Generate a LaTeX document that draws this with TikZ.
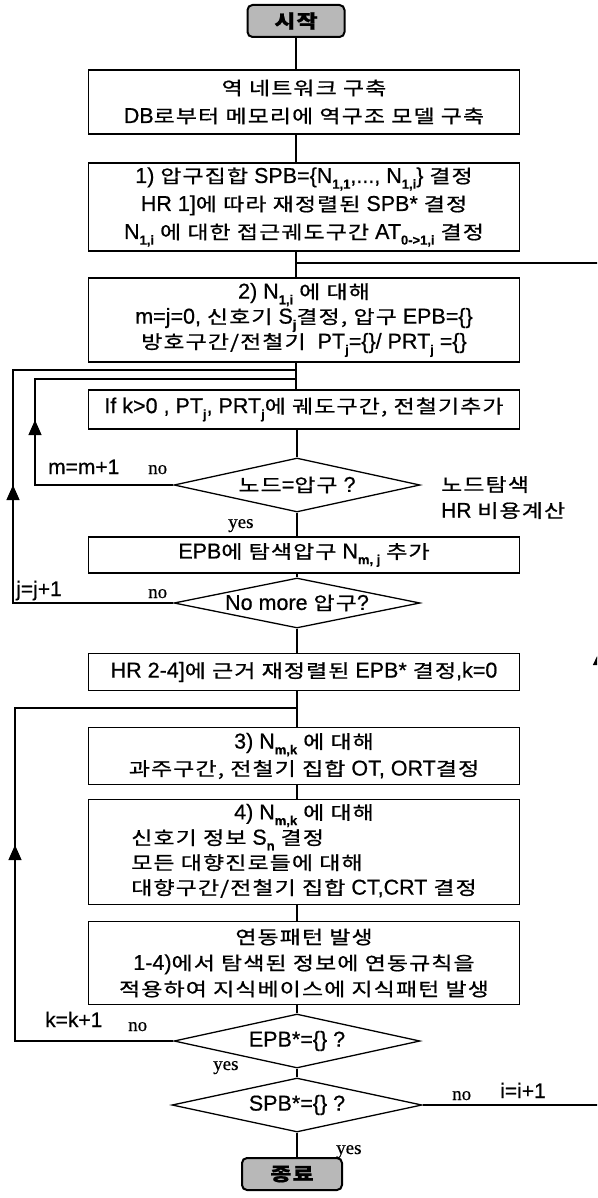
\documentclass[tikz,border=0pt]{standalone}
\usepackage{fontspec}
\setmainfont{Liberation Sans}[FakeBold=0.6]
\newfontfamily\krfont{Noto Sans CJK KR}[FakeStretch=1.24,LetterSpace=6,FakeBold=0.8]
\newfontfamily\ynfont{Liberation Serif}[FakeBold=0.5]
\usetikzlibrary{shapes.geometric,arrows.meta}
% Hangul runs and small bold subscripts
\newcommand{\K}[1]{{\fontsize{18.5}{18.5}\krfont #1}}
\newcommand{\sbs}[1]{\raisebox{-0.5ex}{\fontsize{13}{13}\selectfont\bfseries #1}}
\tikzset{
  ln/.style={line width=1.2pt},
  box/.style={draw, line width=1.3pt, minimum width=431pt, inner sep=0pt,
    align=center, font=\fontsize{21.5}{26}\selectfont},
  dec/.style={draw, shape=diamond, aspect=4.6, line width=1.3pt,
    minimum width=246pt, minimum height=54pt, inner sep=0pt,
    font=\fontsize{21.5}{24}\selectfont},
  term/.style={draw, rounded corners=5pt, line width=2pt, fill=black!28,
    minimum width=97pt, minimum height=32pt, inner sep=0pt,
    font=\fontsize{21}{24}\selectfont\bfseries},
  lbl/.style={inner sep=0pt, anchor=base west, font=\fontsize{21}{26}\selectfont},
  yn/.style={inner sep=0pt, anchor=base west, font=\fontsize{19}{22}\selectfont\ynfont},
  headed/.style={ln, -{Triangle[width=13pt,length=15pt]}}
}
\begin{document}
\begin{tikzpicture}[x=1pt,y=-1pt]
\useasboundingbox (0,0) rectangle (597,1198);
\clip (0,0) rectangle (597,1198);

% ---- main column ----
\node[term] (start) at (296,21) {\K{\bfseries 시작}};
\node[box, minimum height=64pt, font=\fontsize{21.5}{28}\selectfont] (A) at (304,102)
  {\K{역 네트워크 구축}\\DB\K{로부터 메모리에 역구조 모델 구축}};
\node[box, minimum height=88pt, font=\fontsize{21.5}{28}\selectfont] (B) at (304,207)
  {1) \K{압구집합} SPB=\{N\sbs{1,1},..., N\sbs{1,i}\} \K{결정}\\
   HR 1]\K{에 따라 재정렬된} SPB* \K{결정}\\
   N\sbs{1,i} \K{에 대한 접근궤도구간} AT\sbs{0->1,i} \K{결정}};
\node[box, minimum height=84pt, font=\fontsize{21.5}{25}\selectfont] (C) at (304,320)
  {2) N\sbs{1,i} \K{에 대해}\\
   m=j=0, \K{신호기} S\sbs{j}\K{결정, 압구} EPB=\{\}\\
   \K{방호구간/전철기}\ \ PT\sbs{j}=\{\}/ PRT\sbs{j} =\{\}};
\node[box, minimum height=39pt] (D) at (304,409.5)
  {If k>0 , PT\sbs{j}, PRT\sbs{j}\K{에 궤도구간, 전철기추가}};
\node[dec] (D1) at (297,485) {\K{노드}=\K{압구} ?};
\node[box, minimum height=36pt] (E) at (304,555)
  {EPB\K{에 탐색압구} N\sbs{m, j} \K{추가}};
\node[dec, minimum height=50pt] (D2) at (297,603) {No more \K{압구}?};
\node[box, minimum height=37pt] (HR) at (304,672)
  {HR 2-4]\K{에 근거 재정렬된} EPB* \K{결정},k=0};
\node[box, minimum height=57pt, font=\fontsize{21.5}{27}\selectfont] (F) at (304,756)
  {3) N\sbs{m,k} \K{에 대해}\\\K{과주구간, 전철기 집합} OT, ORT\K{결정}};
\node[box, minimum height=105pt, font=\fontsize{21.5}{25}\selectfont] (G) at (304,852)
  {\begin{tabular}{@{}l@{}}
   \multicolumn{1}{@{}c@{}}{4) N\sbs{m,k} \K{에 대해}}\\
   \K{신호기 정보} S\sbs{n} \K{결정}\\
   \K{모든 대향진로들에 대해}\\
   \K{대향구간/전철기 집합} CT,CRT \K{결정}
   \end{tabular}};
\node[box, minimum height=83pt] (H) at (304,963)
  {\K{연동패턴 발생}\\1-4)\K{에서 탐색된 정보에 연동규칙을}\\
   \K{적용하여 지식베이스에 지식패턴 발생}};
\node[dec] (D3) at (297,1041) {EPB*=\{\} ?};
\node[dec, minimum width=250pt] (D4) at (297,1105) {SPB*=\{\} ?};
\node[term, minimum width=100pt] (end) at (292,1174) {\K{\bfseries 종료}};

% ---- straight connectors ----
\draw[ln] (start) -- (start |- A.north);
\draw[ln] (start |- A.south) -- (start |- B.north);
\draw[ln] (start |- B.south) -- (start |- C.north);
\draw[ln] (start |- C.south) -- (start |- D.north);
\draw[ln] (D1 |- D.south) -- (D1.north);
\draw[ln] (D1.south) -- (D1.south |- E.north);
\draw[ln] (D2 |- E.south) -- (D2.north);
\draw[ln] (D2.south) -- (D2.south |- HR.north);
\draw[ln] (D2 |- HR.south) -- (D2 |- F.north);
\draw[ln] (D2 |- F.south) -- (D2 |- G.north);
\draw[ln] (D2 |- G.south) -- (D2 |- H.north);
\draw[ln] (D3 |- H.south) -- (D3.north);
\draw[ln] (D3.south) -- (D4.north);
\draw[ln] (D4.south) -- (D4.south |- end.north);

% ---- loop joints ----
\coordinate (rj) at (297,263);
\coordinate (jj) at (297,370);
\coordinate (mj) at (297,379);
\coordinate (kj) at (297,708);
\coordinate (jc) at (13,370);
\coordinate (mc) at (35,379);
\coordinate (kc) at (15,708);
\coordinate (ic) at (600,263);

% m loop
\draw[ln] (D1.west) -| (mc) -- (mj);
\draw[headed] (35,470) -- (35,420);
% j loop
\draw[ln] (D2.west) -| (jc) -- (jj);
\draw[headed] (13,560) -- (13,485);
% k loop
\draw[ln] (D3.west) -| (kc) -- (kj);
\draw[headed] (15,1000) -- (15,845);
% i loop (runs along the right edge)
\draw[ln] (D4.east) -| (ic) -- (rj);
\draw[ln, -{Triangle[width=14pt,length=15pt]}] (600,900) -- (600,650);

% ---- labels ----
\node[lbl] (lm) at (48,474) {m=m+1};
\node[yn] (n1) at (148,474) {no};
\node[lbl, align=left, anchor=north west] (side) at (441,476)
  {\K{노드탐색}\\HR \K{비용계산}};
\node[yn] (y1) at (228,528) {yes};
\node[lbl] (lj) at (16,596) {j=j+1};
\node[yn] (n2) at (148,598) {no};
\node[lbl] (lk) at (45,1027) {k=k+1};
\node[yn] (n3) at (128,1031) {no};
\node[yn] (y3) at (213,1070) {yes};
\node[yn] (n4) at (452,1100) {no};
\node[lbl] (li) at (500,1098) {i=i+1};
\node[yn] (y4) at (336,1154) {yes};
\end{tikzpicture}
\end{document}
